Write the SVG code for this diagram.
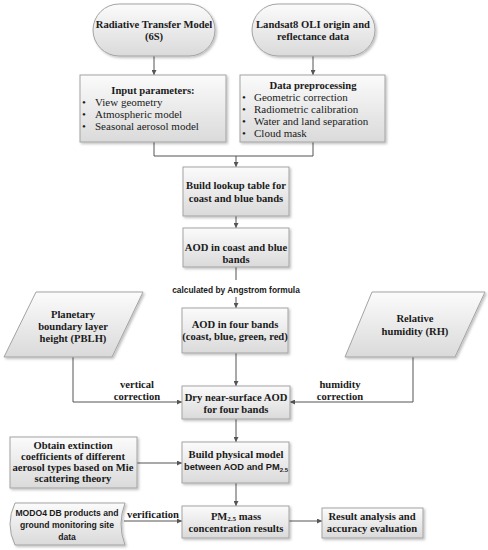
<svg xmlns="http://www.w3.org/2000/svg" width="488" height="550" viewBox="0 0 488 550">
<style>
.box{fill:url(#g);stroke:#a3a3a3;stroke-width:1;filter:url(#sh)}
.t{font-family:"Liberation Serif",serif;font-weight:bold;font-size:10.6px;fill:#1a1a1a;text-anchor:middle}
.b{font-family:"Liberation Serif",serif;font-size:11px;fill:#1a1a1a}
.s{font-family:"Liberation Sans",sans-serif;font-weight:bold;font-size:8.4px;fill:#1a1a1a;text-anchor:middle}
.c{fill:none;stroke:#555;stroke-width:1}
.a{marker-end:url(#ah)}
</style>
<defs>
<linearGradient id="g" x1="0" y1="0" x2="0" y2="1">
<stop offset="0" stop-color="#fbfbfb"/>
<stop offset="1" stop-color="#dadada"/>
</linearGradient>
<filter id="sh" x="-10%" y="-10%" width="130%" height="140%">
<feDropShadow dx="1.5" dy="1.5" stdDeviation="1" flood-color="#000" flood-opacity="0.25"/>
</filter>
<marker id="ah" markerWidth="5" markerHeight="5" refX="5" refY="2.5" orient="auto" markerUnits="userSpaceOnUse">
<path d="M0,0 L5,2.5 L0,5 z" fill="#555"/>
</marker>
</defs>

<g id="connectors">
<path class="c a" d="M154,56 V75"/>
<path class="c a" d="M313,56 V75"/>
<path class="c" d="M154,142 V156 H313 V142"/>
<path class="c a" d="M236,156 V167"/>
<path class="c a" d="M236,216 V228"/>
<path class="c" d="M236,267 V280"/>
<path class="c a" d="M236,297 V308"/>
<path class="c a" d="M236,353 V386"/>
<path class="c a" d="M73,357 V402 H182"/>
<path class="c a" d="M413,357 V402 H290"/>
<path class="c a" d="M236,419 V442"/>
<path class="c a" d="M137,463 H182"/>
<path class="c a" d="M236,483 V506"/>
<path class="c a" d="M124,521 H182"/>
<path class="c a" d="M289,521 H322"/>
<text class="s" x="236" y="293">calculated by Angstrom formula</text>
<text class="t" x="137" y="388">vertical</text>
<text class="t" x="137" y="400">correction</text>
<text class="t" x="340" y="388">humidity</text>
<text class="t" x="340" y="400">correction</text>
<text class="t" x="153" y="518">verification</text>
</g>

<g id="rtm">
<rect class="box" x="93" y="4" width="122" height="52" rx="26"/>
<text class="t" x="154" y="28">Radiative Transfer Model</text>
<text class="t" x="154" y="40">(6S)</text>
</g>

<g id="landsat">
<rect class="box" x="252" y="4" width="123" height="52" rx="26"/>
<text class="t" x="313" y="28">Landsat8 OLI origin and</text>
<text class="t" x="313" y="40">reflectance data</text>
</g>

<g id="input">
<rect class="box" x="80" y="75" width="146" height="67"/>
<text class="t" x="153" y="94">Input parameters:</text>
<text class="b" x="82" y="106">•</text><text class="b" x="95" y="106">View geometry</text>
<text class="b" x="82" y="118">•</text><text class="b" x="95" y="118">Atmospheric model</text>
<text class="b" x="82" y="130">•</text><text class="b" x="95" y="130">Seasonal aerosol model</text>
</g>

<g id="preproc">
<rect class="box" x="240" y="75" width="145" height="67"/>
<text class="t" x="313" y="89">Data preprocessing</text>
<text class="b" x="242" y="101">•</text><text class="b" x="254" y="101">Geometric correction</text>
<text class="b" x="242" y="113">•</text><text class="b" x="254" y="113">Radiometric calibration</text>
<text class="b" x="242" y="125">•</text><text class="b" x="254" y="125">Water and land separation</text>
<text class="b" x="242" y="137">•</text><text class="b" x="254" y="137">Cloud mask</text>
</g>

<g id="lut">
<rect class="box" x="183" y="167" width="106" height="49"/>
<text class="t" x="236" y="189">Build lookup table for</text>
<text class="t" x="236" y="202">coast and blue bands</text>
</g>

<g id="aod2">
<rect class="box" x="183" y="228" width="106" height="39"/>
<text class="t" x="236" y="251">AOD in coast and blue</text>
<text class="t" x="236" y="263">bands</text>
</g>

<g id="aod4">
<rect class="box" x="182" y="308" width="106" height="45"/>
<text class="t" x="235" y="328">AOD in four bands</text>
<text class="t" x="235" y="340">(coast, blue, green, red)</text>
</g>

<g id="pblh">
<polygon class="box" points="36,292 143,292 112,357 4,357"/>
<text class="t" x="73" y="318">Planetary</text>
<text class="t" x="73" y="330">boundary layer</text>
<text class="t" x="73" y="342">height (PBLH)</text>
</g>

<g id="rh">
<polygon class="box" points="372,292 485,292 455,357 345,357"/>
<text class="t" x="415" y="322">Relative</text>
<text class="t" x="415" y="335">humidity (RH)</text>
</g>

<g id="dry">
<rect class="box" x="182" y="386" width="108" height="33"/>
<text class="t" x="236" y="401">Dry near-surface AOD</text>
<text class="t" x="236" y="413">for four bands</text>
</g>

<g id="mie">
<rect class="box" x="10" y="437" width="127" height="51"/>
<text class="t" x="73" y="449">Obtain extinction</text>
<text class="t" x="73" y="460">coefficients of different</text>
<text class="t" x="73" y="471">aerosol types based on Mie</text>
<text class="t" x="73" y="482">scattering theory</text>
</g>

<g id="model">
<rect class="box" x="182" y="442" width="107" height="41"/>
<text class="t" x="236" y="458">Build  physical model</text>
<text class="s" x="236" y="470" style="font-size:9.3px">between AOD and PM<tspan font-size="6" dy="1.5">2.5</tspan></text>
</g>

<g id="modo4">
<path class="box" d="M15,503 L125,503 Q117,524 125,545 L15,545 Q5,524 15,503 Z"/>
<text class="s" x="67" y="516" style="font-size:8.6px">MODO4 DB products and</text>
<text class="s" x="67" y="528" style="font-size:8.6px">ground monitoring site</text>
<text class="s" x="67" y="540" style="font-size:8.6px">data</text>
</g>

<g id="pm">
<rect class="box" x="182" y="506" width="107" height="32"/>
<text class="t" x="236" y="520">PM<tspan font-size="7" dy="1">2.5</tspan><tspan dy="-1"> mass</tspan></text>
<text class="t" x="236" y="532">concentration results</text>
</g>

<g id="result">
<rect class="box" x="322" y="508" width="101" height="30"/>
<text class="t" x="372" y="520">Result analysis and</text>
<text class="t" x="372" y="532">accuracy evaluation</text>
</g>
</svg>
